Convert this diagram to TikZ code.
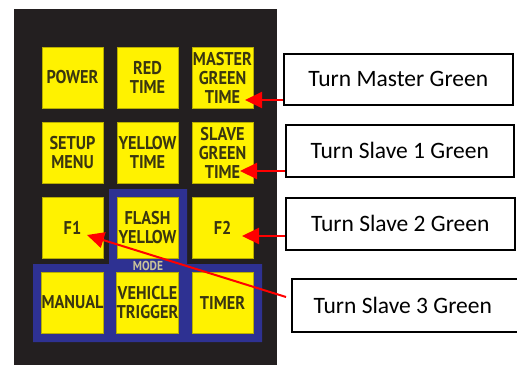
\documentclass[tikz,border=0pt]{standalone}
\usepackage{fontspec}
\setmainfont{Carlito}
\newfontfamily\btnfont[FakeStretch=0.88]{PT Sans}
\usetikzlibrary{arrows.meta,calc}
\definecolor{panel}{HTML}{231F20}
\definecolor{modeblue}{HTML}{2E3192}
\definecolor{btnyellow}{HTML}{FFF200}
\definecolor{btntext}{HTML}{3A3610}
\definecolor{btnedge}{HTML}{B8AE00}
\definecolor{modetext}{HTML}{C9C39A}
\begin{document}
\begin{tikzpicture}[x=1pt,y=-1pt,
  btn/.style={draw=btnedge, line width=0.8pt, fill=btnyellow, minimum width=61pt, minimum height=61pt,
    inner sep=0pt, text=btntext, font=\btnfont\bfseries\fontsize{18.5}{19}\selectfont, align=center},
  callout/.style={draw=black, line width=1.5pt, fill=white, font=\fontsize{23.5}{28}\selectfont,
    anchor=north west, inner sep=0pt},
  redarrow/.style={draw=red, line width=2pt, -{Triangle[length=17pt,width=16pt]}}]
\useasboundingbox (0,0) rectangle (517,365);
\clip (0,0) rectangle (517,365);
% panel
\fill[panel] (14,9) rectangle (277,365);
\fill[modeblue] (109,189) -- (187,189) -- (187,264) -- (262,264) -- (262,342) -- (33,342) -- (33,264) -- (109,264) -- cycle;
\node[font=\btnfont\bfseries\fontsize{13}{15}\selectfont, text=modetext, inner sep=0pt] (mode) at (148,266) {MODE};
% buttons
\node[btn] (power)  at (72.5,77.5)  {POWER};
\node[btn] (red)    at (147.5,77.5) {RED\\TIME};
\node[btn] (master) at (222.5,77.5) {MASTER\\GREEN\\TIME};
\node[btn] (setup)  at (72.5,152.5)  {SETUP\\MENU};
\node[btn] (yellow) at (147.5,152.5) {YELLOW\\TIME};
\node[btn] (slave)  at (222.5,152.5) {SLAVE\\GREEN\\TIME};
\node[btn] (f1)     at (72.5,227.5)  {F1};
\node[btn] (flash)  at (147.5,227.5) {FLASH\\YELLOW};
\node[btn] (f2)     at (222.5,227.5) {F2};
\node[btn] (manual) at (72.5,302.5)  {MANUAL};
\node[btn] (vehicle) at (147.5,302.5) {VEHICLE\\TRIGGER};
\node[btn] (timer)  at (222.5,302.5) {TIMER};
% callouts
\node[callout, minimum width=229pt, minimum height=51pt] (box1) at (283,53) {Turn Master Green};
\node[callout, minimum width=228pt, minimum height=52pt] (box2) at (285,124) {Turn Slave 1 Green};
\node[callout, minimum width=229pt, minimum height=52pt] (box3) at (285,197) {Turn Slave 2 Green};
\node[callout, minimum width=240pt, minimum height=53pt] (box4) at (291,278) {\makebox[240pt][l]{\makebox[222pt]{Turn Slave 3 Green}}};
% arrows
\coordinate (t1) at (245,100);
\coordinate (t2) at (240,171);
\coordinate (t3) at (242,236);
\coordinate (t4) at (87,235);
\coordinate (s4) at (286,297);
\draw[redarrow] (box1.west |- t1) -- (t1);
\draw[redarrow] (box2.west |- t2) -- (t2);
\draw[redarrow] (box3.west |- t3) -- (t3);
\draw[redarrow] (s4) -- (t4);
\end{tikzpicture}
\end{document}
